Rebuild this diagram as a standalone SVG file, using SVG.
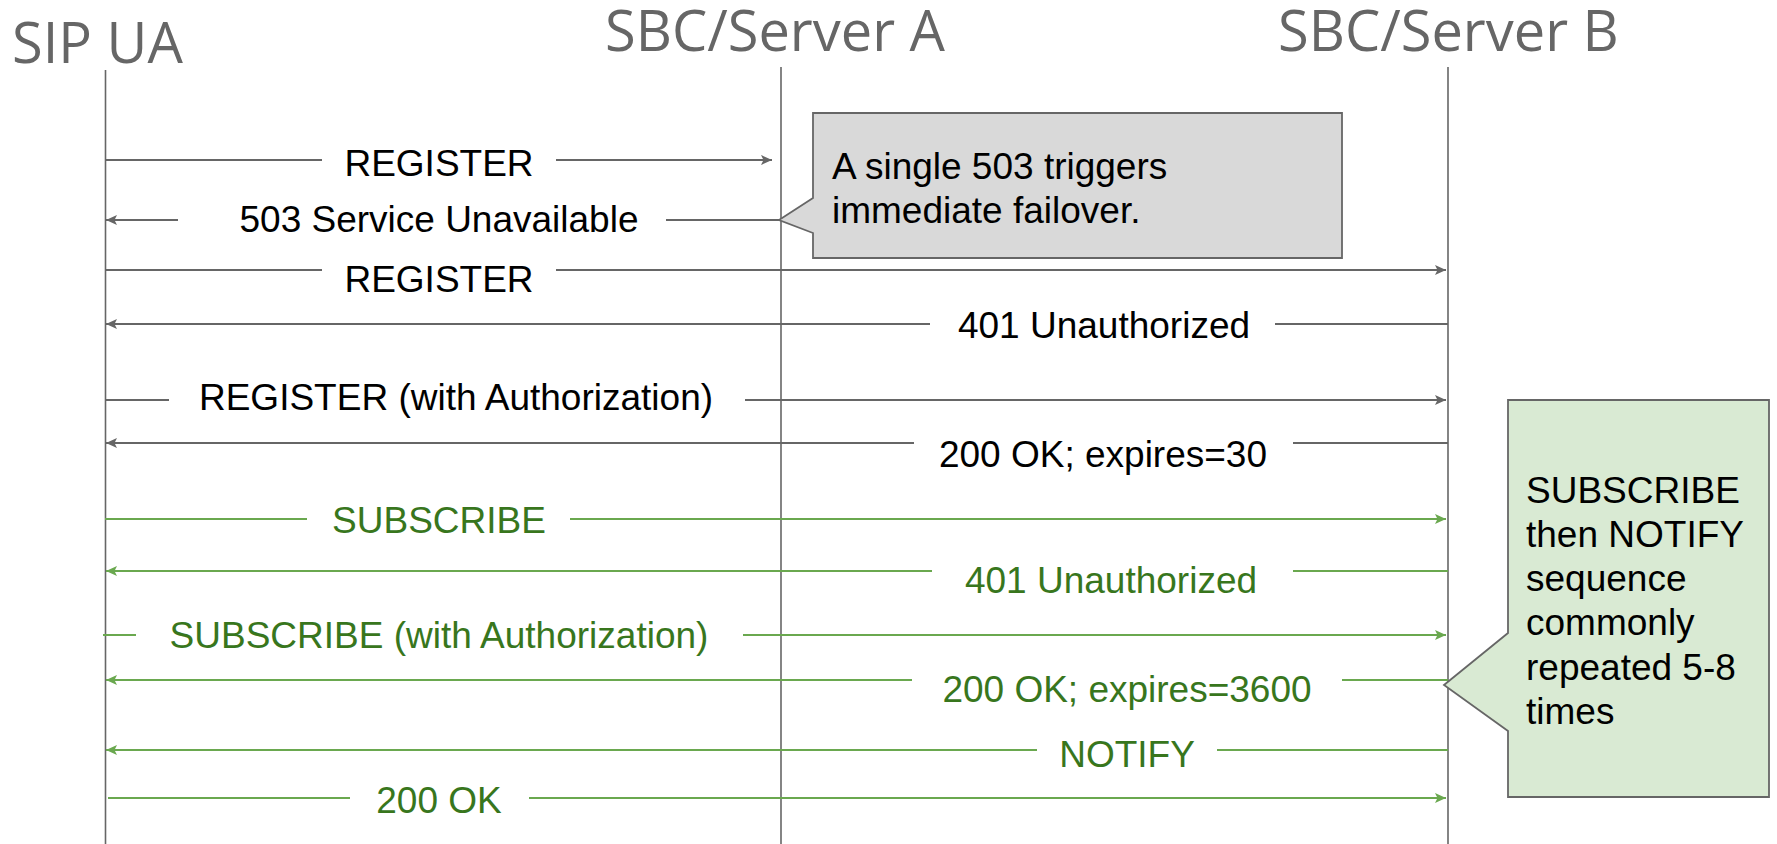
<svg xmlns="http://www.w3.org/2000/svg" width="1777" height="844" viewBox="0 0 1777 844">
<defs>
<style>
.hdr{font-family:"Open Sans","Liberation Sans",sans-serif;font-size:56px;fill:#666666}
.life{stroke:#666666;stroke-width:1.6;fill:none}
.g{stroke:#666666;stroke-width:1.8;fill:none}
.gr{stroke:#6aa84f;stroke-width:2;fill:none}
.lbl{font-family:"Liberation Sans",Arial,sans-serif;font-size:37px;fill:#000000;text-anchor:middle}
.lblg{font-family:"Liberation Sans",Arial,sans-serif;font-size:37px;fill:#38761d;text-anchor:middle}
.note{font-family:"Liberation Sans",Arial,sans-serif;font-size:37px;fill:#000000}
.ag{marker-end:url(#ahg)}
.agr{marker-end:url(#ahgr)}
</style>
<marker id="ahg" markerUnits="userSpaceOnUse" markerWidth="12" markerHeight="10" refX="11" refY="5" orient="auto">
<path d="M0,0 L11,5 L0,10 L2.5,5 z" fill="#666666"/>
</marker>
<marker id="ahgr" markerUnits="userSpaceOnUse" markerWidth="12" markerHeight="10" refX="11" refY="5" orient="auto">
<path d="M0,0 L11,5 L0,10 L2.5,5 z" fill="#6aa84f"/>
</marker>
</defs>
<rect width="1777" height="844" fill="#ffffff"/>

<g id="sip-ua">
<text class="hdr" x="12" y="63">SIP UA</text>
<line class="life" x1="105.5" y1="70" x2="105.5" y2="844"/>
</g>
<g id="server-a">
<text class="hdr" x="605" y="51">SBC/Server A</text>
<line class="life" x1="781" y1="67" x2="781" y2="844"/>
</g>
<g id="server-b">
<text class="hdr" x="1278" y="51">SBC/Server B</text>
<line class="life" x1="1448" y1="67" x2="1448" y2="844"/>
</g>

<g id="connectors">
<path class="g" d="M105,160 H322"/>
<path class="g ag" d="M556,160 H772"/>
<text class="lbl" x="439" y="176">REGISTER</text>

<path class="g ag" d="M178,220 H106"/>
<path class="g" d="M666,220 H781"/>
<text class="lbl" x="439" y="232">503 Service Unavailable</text>

<path class="g" d="M105,270 H322"/>
<path class="g ag" d="M556,270 H1446"/>
<text class="lbl" x="439" y="292">REGISTER</text>

<path class="g ag" d="M930,324 H106"/>
<path class="g" d="M1275,324 H1448"/>
<text class="lbl" x="1104" y="338">401 Unauthorized</text>

<path class="g" d="M105,400 H169"/>
<path class="g ag" d="M745,400 H1446"/>
<text class="lbl" x="456" y="410">REGISTER (with Authorization)</text>

<path class="g ag" d="M914,443 H106"/>
<path class="g" d="M1293,443 H1448"/>
<text class="lbl" x="1103" y="467">200 OK; expires=30</text>

<path class="gr" d="M105,519 H307"/>
<path class="gr agr" d="M570,519 H1446"/>
<text class="lblg" x="439" y="533">SUBSCRIBE</text>

<path class="gr agr" d="M932,571 H106"/>
<path class="gr" d="M1293,571 H1448"/>
<text class="lblg" x="1111" y="593">401 Unauthorized</text>

<path class="gr" d="M103,635 H136"/>
<path class="gr agr" d="M743,635 H1446"/>
<text class="lblg" x="439" y="648">SUBSCRIBE (with Authorization)</text>

<path class="gr agr" d="M912,680 H106"/>
<path class="gr" d="M1342,680 H1448"/>
<text class="lblg" x="1127" y="702">200 OK; expires=3600</text>

<path class="gr agr" d="M1037,750 H106"/>
<path class="gr" d="M1217,750 H1448"/>
<text class="lblg" x="1127" y="767">NOTIFY</text>

<path class="gr" d="M108,798 H350"/>
<path class="gr agr" d="M529,798 H1446"/>
<text class="lblg" x="439" y="813">200 OK</text>
</g>

<g id="note-failover">
<path d="M813,113 H1342 V258 H813 V233 L779,220 L813,198 Z" fill="#d9d9d9" stroke="#666666" stroke-width="1.8"/>
<text class="note" x="832" y="179">A single 503 triggers</text>
<text class="note" x="832" y="223">immediate failover.</text>
</g>

<g id="note-subscribe">
<path d="M1508,400 H1769 V797 H1508 V731 L1444,685 L1508,633 Z" fill="#d9ead3" stroke="#666666" stroke-width="1.8"/>
<text class="note" x="1526" y="503">SUBSCRIBE</text>
<text class="note" x="1526" y="547">then NOTIFY</text>
<text class="note" x="1526" y="591">sequence</text>
<text class="note" x="1526" y="635">commonly</text>
<text class="note" x="1526" y="680">repeated 5-8</text>
<text class="note" x="1526" y="724">times</text>
</g>
</svg>
